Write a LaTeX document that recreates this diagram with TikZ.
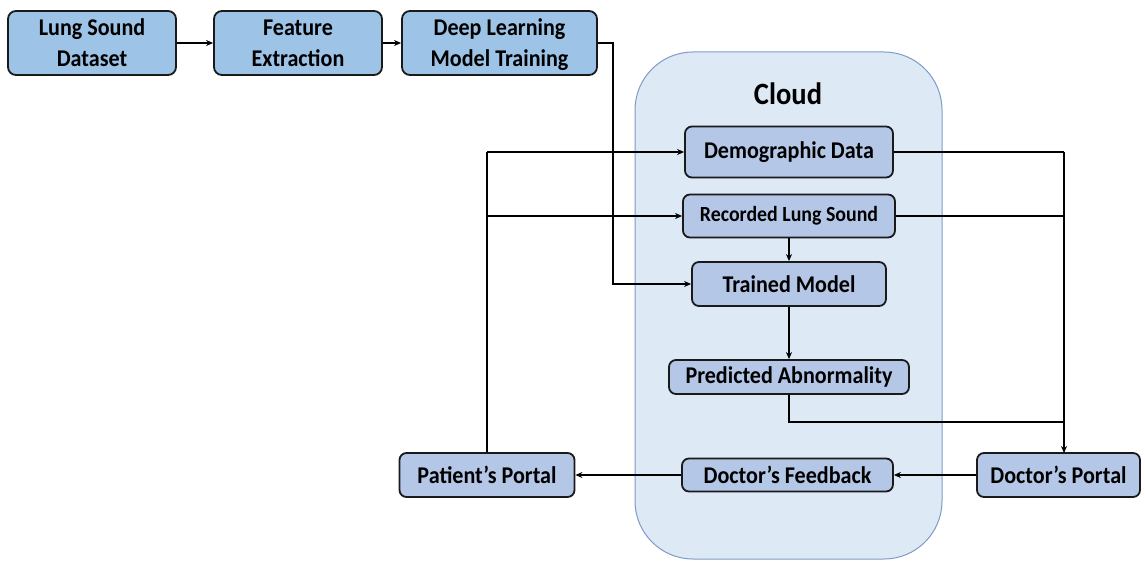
\documentclass[tikz,border=0pt]{standalone}
\usepackage{fontspec}
\setmainfont{Carlito}[FakeStretch=0.92]
\usetikzlibrary{arrows.meta}
\definecolor{topfill}{HTML}{9DC3E6}
\definecolor{cloudfill}{HTML}{DEE9F6}
\definecolor{cloudedge}{HTML}{7E9AC6}
\definecolor{boxfill}{HTML}{B4C7E7}
\definecolor{edgecol}{HTML}{1A1A1A}
% bold label font: size and baseline skip in pt
\newcommand{\lblfont}[2]{\bfseries\fontsize{#1}{#2}\selectfont}
\tikzset{
  stagebox/.style={draw=edgecol, line width=1.8pt, rounded corners=8pt, fill=topfill,
    align=center, inner sep=0pt, text height=48pt, text depth=0pt, font=\lblfont{24}{31}},
  cloudbox/.style={draw=edgecol, line width=1.8pt, rounded corners=7pt, fill=boxfill,
    align=center, inner sep=0pt, font=\lblfont{24}{29}},
  link/.style={draw=black, line width=1.8pt, -{Stealth[length=7pt,width=6pt]}},
  plain/.style={draw=black, line width=1.8pt}
}
\begin{document}
\begin{tikzpicture}[x=1pt,y=-1pt]
\useasboundingbox (0,0) rectangle (1145,561);
% cloud container
\draw[fill=cloudfill, draw=cloudedge, line width=1pt, rounded corners=58pt]
  (635,52) rectangle (942,559);
\node[font=\lblfont{31}{36}] (cloud) at (788,94) {Cloud};

% training pipeline
\node[stagebox, minimum width=168pt, minimum height=64pt] (ds) at (92,43) {Lung Sound\\Dataset};
\node[stagebox, minimum width=168pt, minimum height=64pt] (fe) at (298,43) {Feature\\Extraction};
\node[stagebox, minimum width=195pt, minimum height=64pt] (dl) at (499.5,43) {Deep Learning\\Model Training};

% cloud services
\node[cloudbox, minimum width=208pt, minimum height=51pt] (demo) at (789,152) {Demographic Data};
\node[cloudbox, minimum width=212pt, minimum height=43pt, font=\lblfont{21.6}{26}] (rec) at (789,216) {Recorded Lung Sound};
\node[cloudbox, minimum width=194pt, minimum height=44pt] (tm) at (789,284) {Trained Model};
\node[cloudbox, minimum width=240pt, minimum height=34pt] (pa) at (789,377) {Predicted Abnormality};
\node[cloudbox, minimum width=211pt, minimum height=33pt] (fb) at (787.5,475) {Doctor’s Feedback};

% portals
\node[cloudbox, minimum width=175pt, minimum height=44pt] (pp) at (487,475) {Patient’s Portal};
\node[cloudbox, minimum width=163pt, minimum height=44pt] (dp) at (1058.5,475) {Doctor’s Portal};

% junction points on the portal trunks
\coordinate (pj) at (pp.north |- demo.west);
\coordinate (pr) at (pp.north |- rec.west);
\coordinate (dtop) at (1064,152);
\coordinate (drec) at (1064,216);
\coordinate (dpa) at (1064,422);
\coordinate (dend) at (1064,453);

% pipeline flow
\draw[link] (ds) -- (fe);
\draw[link] (fe) -- (dl);
\draw[link] (dl.east) -- (613,43) |- (tm.west);

% patient uploads
\draw[plain] (pp.north) -- (pj);
\draw[link] (pj) -- (demo.west);
\draw[link] (pr) -- (rec.west);

% inference chain
\draw[link] (rec) -- (tm);
\draw[link] (tm) -- (pa);

% data to doctor
\draw[plain] (demo.east) -- (dtop);
\draw[plain] (rec.east) -- (drec);
\draw[plain] (pa.south) |- (dpa);
\draw[link] (dtop) -- (dend);

% feedback path
\draw[link] (dp) -- (fb);
\draw[link] (fb) -- (pp);
\end{tikzpicture}
\end{document}
